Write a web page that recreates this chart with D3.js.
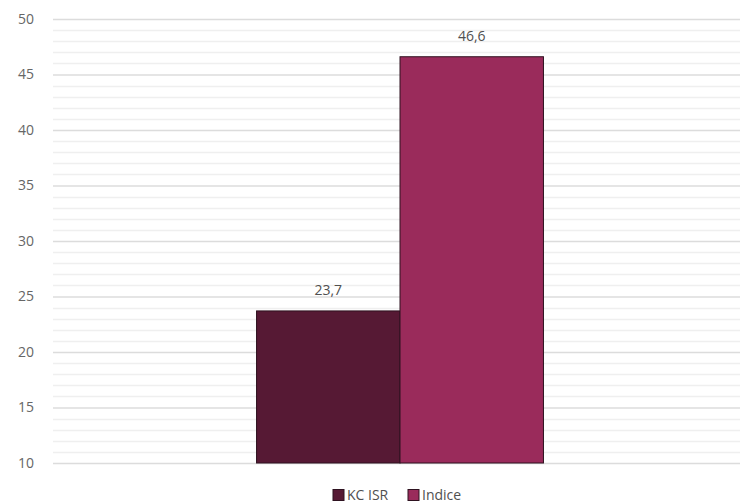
<!DOCTYPE html>
<html>
<head>
<meta charset="utf-8">
<script src="https://cdn.jsdelivr.net/npm/d3@7"></script>
<style>
    body { margin: 0; background: #fff; }
    svg text { font-family: "Open Sans", sans-serif; }
</style>
</head>
<body>
<div id="chart"></div>
<script>
// chart data
const categories = [''];
const seriesNames = ['KC ISR', 'Indice'];
const seriesValues = [[23.7], [46.6]];
const seriesColors = ['#561934', '#9a2b5b'];
const yTicks = [10, 15, 20, 25, 30, 35, 40, 45, 50];

const width = 740;
const height = 503;
const margin = { top: 19, right: -7, bottom: 40, left: 53 };

const svg = d3.select('#chart').append('svg')
    .attr('width', width)
    .attr('height', height);

const y = d3.scaleLinear()
    .domain([10, 50])
    .range([height - margin.bottom, margin.top]);

const x = d3.scaleBand()
    .domain(categories)
    .range([margin.left, width - margin.right])
    .padding(0.415);

const xInner = d3.scaleBand()
    .domain(seriesNames)
    .range([0, x.bandwidth()]);

// minor gridlines, one per unit
svg.append('g')
    .selectAll('line')
    .data(d3.range(10, 51, 1).filter(v => v % 5 !== 0))
    .join('line')
    .attr('x1', margin.left)
    .attr('x2', width)
    .attr('y1', d => Math.round(y(d)) + 0.5)
    .attr('y2', d => Math.round(y(d)) + 0.5)
    .attr('stroke', '#efefef')
    .attr('stroke-width', 1.5);

// major gridlines + labels
const axis = d3.axisLeft(y)
    .tickValues(yTicks)
    .tickSize(-(width - margin.left))
    .tickPadding(16)
    .tickFormat(d3.format('d'));

const axisG = svg.append('g')
    .attr('transform', `translate(${margin.left},0)`)
    .call(axis);
axisG.select('.domain').remove();
axisG.selectAll('.tick line')
    .attr('stroke', '#dcdcdc')
    .attr('stroke-width', 1.5);
axisG.selectAll('.tick text')
    .attr('fill', '#666')
    .attr('font-size', 14)
    .attr('text-anchor', 'middle')
    .attr('x', 26 - margin.left);

// bars
const bars = seriesNames.map((name, i) => ({ name, value: seriesValues[i][0], color: seriesColors[i], cat: categories[0] }));

svg.append('g')
    .selectAll('rect')
    .data(bars)
    .join('rect')
    .attr('x', d => x(d.cat) + xInner(d.name))
    .attr('y', d => y(d.value))
    .attr('width', xInner.bandwidth())
    .attr('height', d => y(10) - y(d.value))
    .attr('fill', d => d.color)
    .attr('stroke', '#2e1220')
    .attr('stroke-width', 1);

// value labels
svg.append('g')
    .selectAll('text')
    .data(bars)
    .join('text')
    .attr('x', d => x(d.cat) + xInner(d.name) + xInner.bandwidth() / 2)
    .attr('y', d => y(d.value) - 16)
    .attr('text-anchor', 'middle')
    .attr('font-size', 14)
    .attr('fill', '#505050')
    .text(d => d3.format('.1f')(d.value).replace('.', ','));

// legend
const legend = svg.append('g')
    .attr('transform', `translate(333, 495)`);
const legendX = [0, 75];
const items = legend.selectAll('g')
    .data(bars)
    .join('g')
    .attr('transform', (d, i) => `translate(${legendX[i]},0)`);
items.append('rect')
    .attr('x', 0)
    .attr('y', -5.5)
    .attr('width', 11)
    .attr('height', 11)
    .attr('fill', d => d.color)
    .attr('stroke', '#2e1220')
    .attr('stroke-width', 1);
items.append('text')
    .attr('x', 14)
    .attr('y', 5)
    .attr('font-size', 14)
    .attr('fill', '#505050')
    .text(d => d.name);
</script>
</body>
</html>
